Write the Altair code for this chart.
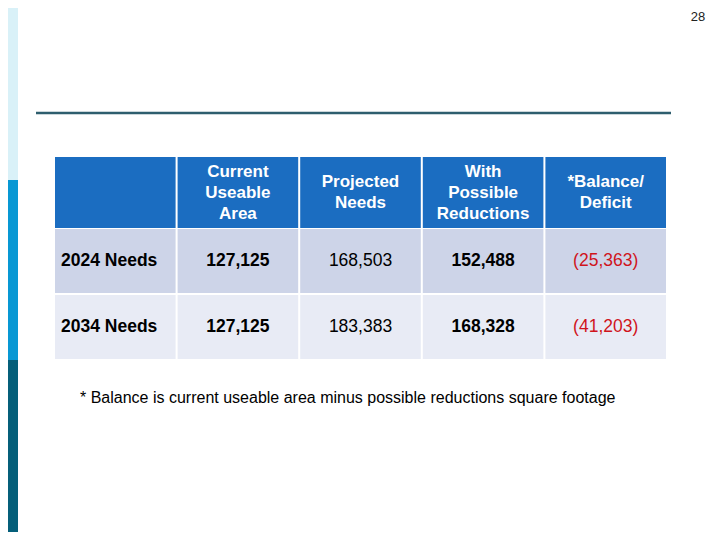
import altair as alt
import pandas as pd

# ---- data ----
col_keys = ["label", "current", "projected", "reductions", "balance"]
header_labels = ["", "Current\nUseable\nArea", "Projected\nNeeds",
                 "With\nPossible\nReductions", "*Balance/\nDeficit"]
row_labels = ["2024 Needs", "2034 Needs"]
current_area = ["127,125", "127,125"]
projected_needs = ["168,503", "183,383"]
with_reductions = ["152,488", "168,328"]
balance = ["(25,363)", "(41,203)"]
footnote = "* Balance is current useable area minus possible reductions square footage"
page_number = "28"

FONT = "Liberation Sans"
LH = 21

head_df = pd.DataFrame({"col": col_keys, "row": ["header"] * 5, "text": header_labels})
head_df["nlines"] = head_df["text"].str.count("\n") + 1
body_rows = []
for i, r in enumerate(row_labels):
    body_rows.append({"row": r, "col": "label", "text": r})
    body_rows.append({"row": r, "col": "current", "text": current_area[i]})
    body_rows.append({"row": r, "col": "projected", "text": projected_needs[i]})
    body_rows.append({"row": r, "col": "reductions", "text": with_reductions[i]})
    body_rows.append({"row": r, "col": "balance", "text": balance[i]})
body_df = pd.DataFrame(body_rows)

xs = alt.Scale(type="band", domain=col_keys, range=[47, 658], paddingInner=0.0164, paddingOuter=0)
ys_head = alt.Scale(type="band", domain=["header"], range=[149, 220], paddingInner=0, paddingOuter=0)
ys_body = alt.Scale(type="band", domain=row_labels, range=[221, 351], paddingInner=0.031, paddingOuter=0)

X = lambda bp=0.5: alt.X("col:N", scale=xs, axis=None, bandPosition=bp)
YH = alt.Y("row:N", scale=ys_head, axis=None)
YB = alt.Y("row:N", scale=ys_body, axis=None)

head_rect = alt.Chart(head_df).mark_rect(color="#1b6dc1").encode(
    x=alt.X("col:N", scale=xs, axis=None), y=YH)

def head_text(n):
    return alt.Chart(head_df).transform_filter(alt.datum.nlines == n).mark_text(
        font=FONT, fontSize=17, fontWeight="bold", color="white", lineBreak="\n",
        lineHeight=LH, align="center", baseline="middle", dy=-(n - 1) * LH / 2).encode(
        x=X(), y=alt.Y("row:N", scale=ys_head, axis=None, bandPosition=0.5), text="text:N")

body_rect = alt.Chart(body_df).mark_rect().encode(
    x=alt.X("col:N", scale=xs, axis=None), y=YB,
    color=alt.Color("row:N", scale=alt.Scale(domain=row_labels, range=["#cdd4e8", "#e8ebf5"]), legend=None))

def body_text(cols, weight, color, align="center", bp=0.5, dx=0):
    return alt.Chart(body_df).transform_filter(
        alt.FieldOneOfPredicate(field="col", oneOf=cols)).mark_text(
        font=FONT, fontSize=17.5, fontWeight=weight, color=color, align=align,
        baseline="middle", dx=dx).encode(
        x=X(bp), y=alt.Y("row:N", scale=ys_body, axis=None, bandPosition=0.5), text="text:N")

lbl = body_text(["label"], "bold", "black", align="left", bp=0, dx=6)
boldv = body_text(["current", "reductions"], "bold", "black")
normv = body_text(["projected"], "normal", "black")
redv = body_text(["balance"], "normal", "#d0141c")

one = pd.DataFrame({"a": [0]})
bar1 = alt.Chart(one).mark_rect(color="#d9f1f8").encode(
    x=alt.value(0), x2=alt.value(10), y=alt.value(0), y2=alt.value(172))
bar2 = alt.Chart(one).mark_rect(color="#0898d4").encode(
    x=alt.value(0), x2=alt.value(10), y=alt.value(172), y2=alt.value(352))
bar3 = alt.Chart(one).mark_rect(color="#055f7a").encode(
    x=alt.value(0), x2=alt.value(10), y=alt.value(352), y2=alt.value(524))
hline = alt.Chart(one).mark_rule(color="#2e5e6e", strokeWidth=2.5).encode(
    x=alt.value(28), x2=alt.value(663), y=alt.value(105))
pnum = alt.Chart(pd.DataFrame({"t": [page_number]})).mark_text(
    font="Liberation Sans Narrow, Liberation Sans", fontSize=13, align="center",
    baseline="middle", color="#222").encode(
    x=alt.value(690), y=alt.value(9), text="t:N")
foot = alt.Chart(pd.DataFrame({"t": [footnote]})).mark_text(
    font=FONT, fontSize=16, align="left", baseline="middle", color="black").encode(
    x=alt.value(72), y=alt.value(390), text="t:N")

chart = alt.layer(
    bar1, bar2, bar3, hline, pnum,
    head_rect, head_text(1), head_text(2), head_text(3),
    body_rect, lbl, boldv, normv, redv, foot
).resolve_scale(y="independent", color="independent").properties(
    width=704, height=524, padding=0, autosize="none"
).configure_view(stroke=None)

chart.save("out.html", embed_options={"renderer": "svg", "actions": False})
